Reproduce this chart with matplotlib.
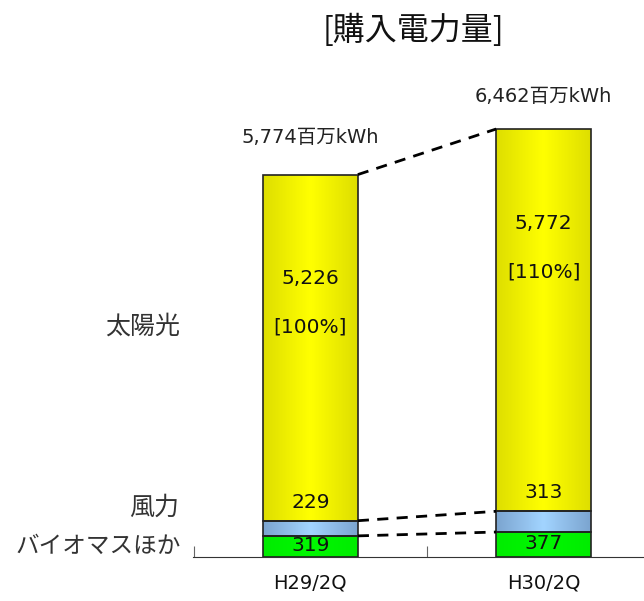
import matplotlib
matplotlib.use("Agg")
import matplotlib.pyplot as plt
import numpy as np
from matplotlib.colors import LinearSegmentedColormap

plt.rcParams['font.family'] = ['Noto Sans CJK JP', 'DejaVu Sans']
NUMFONT = ['DejaVu Sans', 'Noto Sans CJK JP']

categories = ["H29/2Q", "H30/2Q"]
biomass = [319, 377]
wind = [229, 313]
solar = [5226, 5772]
totals = [5774, 6462]
solar_pct = ["[100%]", "[110%]"]
series_names = ["バイオマスほか", "風力", "太陽光"]
title = "[購入電力量]"
unit = "百万kWh"

W, H = 644, 601
fig = plt.figure(figsize=(W / 100, H / 100), dpi=100)
ax_left, ax_right = 193, 644
base_y, top_y = 557, 129
scale = (base_y - top_y) / totals[1]
ymax = 7000
ax_top = base_y - ymax * scale
ax = fig.add_axes([ax_left / W, 1 - base_y / H, (ax_right - ax_left) / W, (base_y - ax_top) / H])
ax.set_ylim(0, ymax)
ax.set_xlim(-0.503, 1.43)

x = np.arange(len(categories))
width = 0.407

grad = np.abs(np.linspace(-1, 1, 256))[None, :]
cm_y = LinearSegmentedColormap.from_list("y", ["#ffff00", "#dede00"])
cm_b = LinearSegmentedColormap.from_list("b", ["#a2d4ff", "#7ba4cf"])
cm_g = LinearSegmentedColormap.from_list("g", ["#00f800", "#00ec00"])

layers = [(biomass, cm_g), (wind, cm_b), (solar, cm_y)]
bottoms = np.zeros(len(categories))
tops_by_layer = []
for vals, cm in layers:
    vals = np.array(vals, dtype=float)
    bars = ax.bar(x, vals, width, bottom=bottoms, facecolor="none",
                  edgecolor="#222222", linewidth=1.2, zorder=3)
    for b in bars:
        x0, y0 = b.get_x(), b.get_y()
        im = ax.imshow(grad, cmap=cm, aspect="auto",
                       extent=[x0, x0 + b.get_width(), y0, y0 + b.get_height()],
                       zorder=2, interpolation="bilinear")
        im.set_clip_path(b)
    bottoms = bottoms + vals
    tops_by_layer.append(bottoms.copy())

for tops in tops_by_layer:
    ax.plot([x[0] + width / 2, x[1] - width / 2], [tops[0], tops[1]],
            ls=(0, (4, 3)), color="black", lw=2, zorder=4)

fs = 14.5
for i in range(2):
    ax.text(x[i], biomass[i] / 2 + 10, f"{biomass[i]:,}", ha="center", va="center",
            fontsize=fs, family=NUMFONT, color="#111111", zorder=5)
for i in range(2):
    ax.text(x[i], biomass[i] + wind[i] + 280, f"{wind[i]:,}", ha="center", va="center",
            fontsize=fs, family=NUMFONT, color="#111111", zorder=5)
solar_y = [4200, 5030]
pct_y = [3480, 4310]
for i in range(2):
    ax.text(x[i], solar_y[i], f"{solar[i]:,}", ha="center", va="center",
            fontsize=fs, family=NUMFONT, color="#111111", zorder=5)
    ax.text(x[i], pct_y[i], solar_pct[i], ha="center", va="center",
            fontsize=fs, family=NUMFONT, color="#111111", zorder=5)
tot_off = [560, 490]
for i in range(2):
    ax.text(x[i], totals[i] + tot_off[i], f"{totals[i]:,}{unit}", ha="center", va="center",
            fontsize=14, family=NUMFONT, color="#222222", zorder=5)

for s in ["top", "right", "left"]:
    ax.spines[s].set_visible(False)
ax.spines["bottom"].set_color("#333333")
ax.set_yticks([])
ax.set_xticks([-0.5, 0.5])
ax.tick_params(axis="x", direction="in", length=8, color="#666666", labelbottom=False)
for i in range(2):
    ax.text(x[i], -390, categories[i], ha="center", va="center", fontsize=14,
            family=NUMFONT, color="#111111")

fig.text(180 / W, 1 - 327 / H, series_names[2], ha="right", va="center", fontsize=18, color="#333333")
fig.text(179 / W, 1 - 508 / H, series_names[1], ha="right", va="center", fontsize=18, color="#333333")
fig.text(181 / W, 1 - 546 / H, series_names[0], ha="right", va="center", fontsize=17, color="#333333")

fig.text(413 / W, 1 - 30 / H, title, ha="center", va="center", fontsize=23, color="#111111")

fig.savefig("out.png", dpi=100)
